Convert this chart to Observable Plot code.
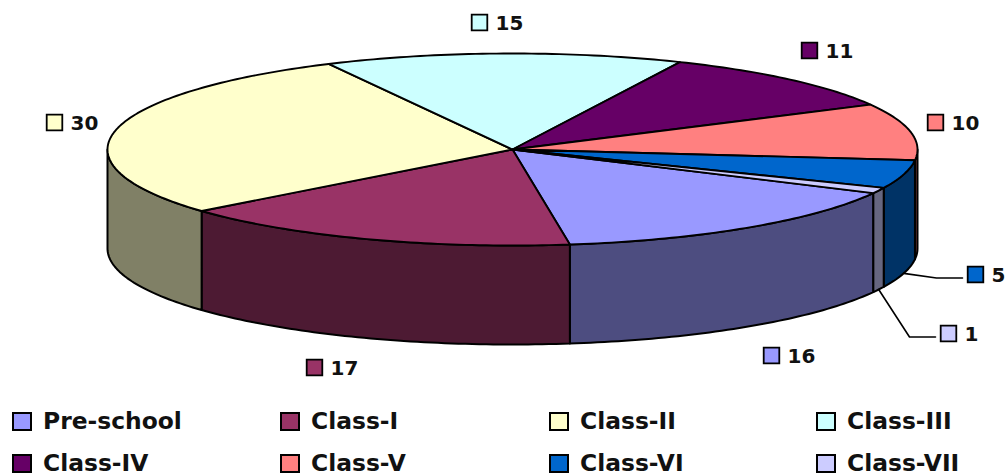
<!DOCTYPE html>
<html>
<head>
<meta charset="utf-8">
<script src="https://cdn.jsdelivr.net/npm/d3@7"></script>
<script src="https://cdn.jsdelivr.net/npm/@observablehq/plot@0.6"></script>
<style>
html,body{margin:0;padding:0;background:#fff}
#chart svg{display:block}
#legend{position:relative;width:1006px;height:80px;font:bold 23.4px "DejaVu Sans",sans-serif;color:#111}
.li{position:absolute;display:flex;align-items:center;height:24px}
.sw{width:16px;height:15px;border:2px solid #000;margin-right:11px;flex:none}
</style>
</head>
<body>
<div id="chart"></div>
<div id="legend"></div>
<script>
const categories = ["Pre-school","Class-I","Class-II","Class-III","Class-IV","Class-V","Class-VI","Class-VII"];
const values = [16,17,30,15,11,10,5,1];
const topColors = ["#9999FF","#993366","#FFFFCC","#CCFFFF","#660066","#FF8080","#0066CC","#CCCCFF"];
const wallColors = ["#4D4D80","#4D1A33","#808066","#668080","#330033","#804040","#003366","#666680"];

// layout of the tilted pie
const W = 1006, H = 395;
const cx = 512, cy = 149, rx = 405, ry = 96, depth = 99, startDeg = 27;
const labelSpots = [[771,355],[314,367],[54,122],[479,22],[809,50],[935,122],[975,274],[948,333]];
const leaderOf = {6:true, 7:true};

const total = d3.sum(values);
let acc = startDeg;
const slices = values.map((v,i)=>{
  const a0 = acc, a1 = acc + v/total*360; acc = a1;
  return {i, a0, a1, mid:(a0+a1)/2};
});
const rad = d => d*Math.PI/180;
const rim = (deg, drop=0) => ({x: cx + rx*Math.cos(rad(deg)), y: cy + ry*Math.sin(rad(deg)) + drop});
const arc = (a0,a1,drop=0) => {
  const n = Math.max(2, Math.ceil(Math.abs(a1-a0)));
  return d3.range(n+1).map(k=>rim(a0+(a1-a0)*k/n, drop));
};

const marks = [];
// side walls: the part of every slice's rim on the front half
for (const s of slices) {
  for (const off of [0,360]) {
    const lo = Math.max(s.a0, off), hi = Math.min(s.a1, off+180);
    if (hi > lo) {
      const poly = [...arc(lo,hi), ...arc(hi,lo,depth)];
      poly.push(poly[0]);
      marks.push(Plot.line(poly,{x:"x",y:"y",fill:wallColors[s.i],stroke:"#000",strokeWidth:2,strokeLinejoin:"round"}));
    }
  }
}
// top faces
for (const s of slices) {
  const poly = [{x:cx,y:cy}, ...arc(s.a0,s.a1), {x:cx,y:cy}];
  marks.push(Plot.line(poly,{x:"x",y:"y",fill:topColors[s.i],stroke:"#000",strokeWidth:1.9,strokeLinejoin:"round"}));
}
// leader lines
for (const s of slices) {
  if (!leaderOf[s.i]) continue;
  const [lx,ly] = labelSpots[s.i];
  const start = rim(s.mid, depth);
  const pts = [start, {x:lx-39,y:ly+3.5}, {x:lx-13,y:ly+3.5}];
  marks.push(Plot.line(pts,{x:"x",y:"y",stroke:"#000",strokeWidth:1.6}));
}
// data labels
const labelRows = slices.map(s=>({x:labelSpots[s.i][0], y:labelSpots[s.i][1], v:values[s.i], c:topColors[s.i]}));
marks.push(Plot.dot(labelRows,{x:"x",y:"y",symbol:"square",r:8.8,fill:d=>d.c,stroke:"#000",strokeWidth:1.8}));
marks.push(Plot.text(labelRows,{x:"x",y:"y",text:d=>String(d.v),dx:16,dy:1,textAnchor:"start",fontSize:20,fontWeight:"bold",fontFamily:"DejaVu Sans",fill:"#111"}));

const plot = Plot.plot({
  width:W, height:H, margin:0,
  x:{domain:[0,W],range:[0,W],axis:null},
  y:{domain:[0,H],range:[0,H],axis:null},
  color:{type:"identity"},
  marks
});
plot.style.background = "#fff";
document.getElementById("chart").append(plot);

// legend below the svg
const legendCols = [12,280,549,816], legendRows = [14,56];
const legend = document.getElementById("legend");
categories.forEach((c,i)=>{
  const el = document.createElement("div");
  el.className = "li";
  el.style.left = legendCols[i%4]+"px";
  el.style.top = legendRows[Math.floor(i/4)]+"px";
  const sw = document.createElement("span");
  sw.className = "sw"; sw.style.background = topColors[i];
  const t = document.createElement("span");
  t.textContent = c;
  el.append(sw,t);
  legend.append(el);
});
</script>
</body>
</html>
